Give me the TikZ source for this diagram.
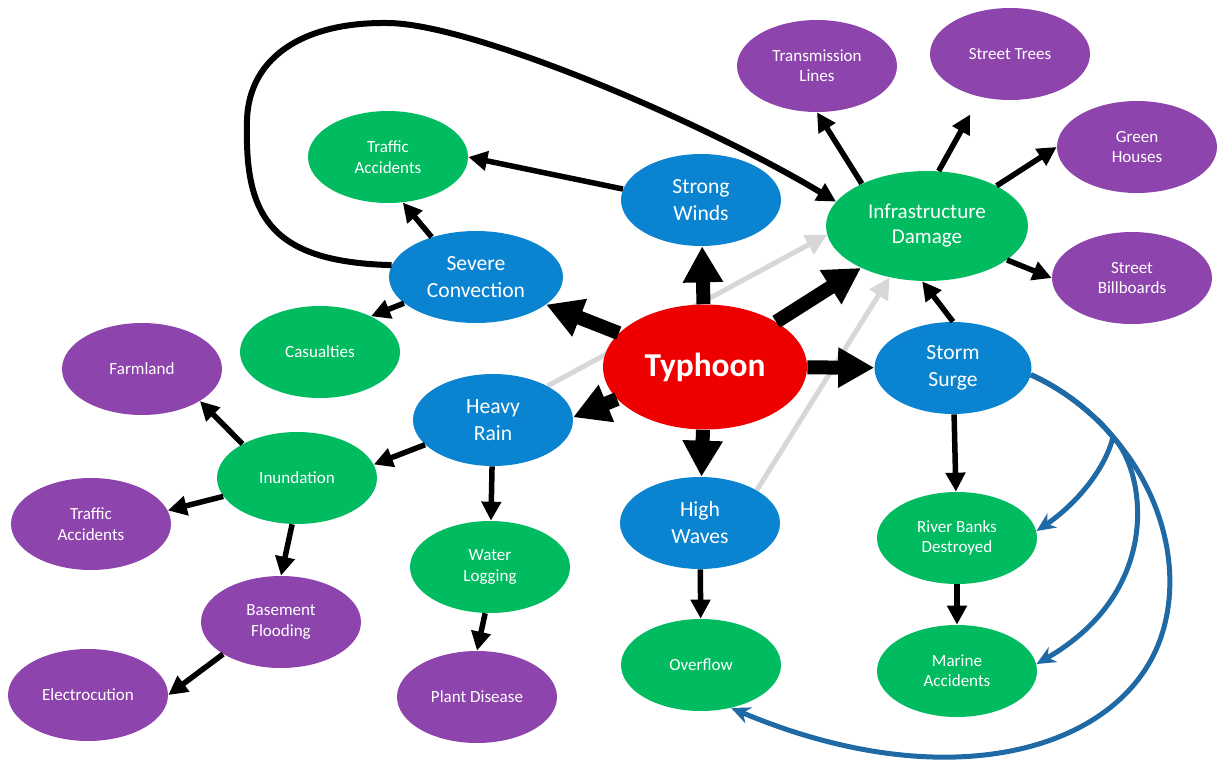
\documentclass[tikz,border=0pt]{standalone}
\usepackage{fontspec}
\setmainfont{Carlito}
\usetikzlibrary{shapes.geometric,arrows.meta,backgrounds}

\definecolor{hazblue}{RGB}{10,132,208}
\definecolor{effgreen}{RGB}{0,187,95}
\definecolor{objpurple}{RGB}{142,68,173}
\definecolor{typred}{RGB}{238,0,0}
\definecolor{surgeblue}{RGB}{31,105,165}
\definecolor{faintgray}{RGB}{215,215,215}

\begin{document}
\begin{tikzpicture}[x=0.02cm, y=-0.02cm,
	bubble/.style={shape=ellipse, inner sep=0pt, text=white, align=center, minimum width=3.2cm, minimum height=1.84cm},
	hazard/.style={bubble, fill=hazblue, font=\fontsize{12.3}{15.3}\selectfont},
	effect/.style={bubble, fill=effgreen, font=\fontsize{9.7}{11.6}\selectfont},
	target/.style={bubble, fill=objpurple, font=\fontsize{9.7}{11.6}\selectfont},
	mainlink/.style={-{Triangle[length=0.72cm, width=0.76cm]}, line width=0.28cm},
	link/.style={-{Triangle[length=0.38cm, width=0.38cm]}, line width=0.11cm},
	faintlink/.style={-{Triangle[length=0.42cm, width=0.42cm]}, line width=0.1cm, color=faintgray},
	surgelink/.style={-{Stealth[length=0.38cm, width=0.34cm]}, line width=0.1cm, draw=surgeblue}]
	
	\useasboundingbox (0, 0) rectangle (1221, 761);
	
	\node[hazard, fill=typred, minimum width=4.08cm, minimum height=2.5cm, font=\fontsize{19}{22}\selectfont\bfseries] (typhoon) at (705, 367) {Typhoon};
	
	\node[hazard] (winds) at (701, 200) {Strong\\Winds};
	\node[hazard, minimum width=3.48cm] (convection) at (476, 277) {Severe\\Convection};
	\node[hazard] (rain) at (493, 420) {Heavy\\Rain};
	\node[hazard] (waves) at (700, 523) {High\\Waves};
	\node[hazard, minimum width=3.14cm] (surge) at (953, 368) {Storm\\Surge};
	
	\node[effect, minimum width=4.04cm, minimum height=2.2cm, font=\fontsize{12}{14.2}\selectfont] (damage) at (927, 226) {Infrastructure\\Damage};
	\node[effect] (traffic) at (388, 157) {Traffic\\Accidents};
	\node[effect] (casualties) at (320, 352) {Casualties};
	\node[effect] (inundation) at (297, 478) {Inundation};
	\node[effect] (logging) at (490, 567) {Water\\Logging};
	\node[effect] (overflow) at (701, 665) {Overflow};
	\node[effect] (banks) at (957, 538) {River Banks\\Destroyed};
	\node[effect] (marine) at (957, 671) {Marine\\Accidents};
	
	\node[target] (lines) at (817, 66) {Transmission\\Lines};
	\node[target] (trees) at (1010, 54) {Street Trees};
	\node[target] (houses) at (1137, 147) {Green\\Houses};
	\node[target] (billboards) at (1132, 278) {Street\\Billboards};
	\node[target] (farmland) at (142, 369) {Farmland};
	\node[target] (crashes) at (91, 524) {Traffic\\Accidents};
	\node[target] (basement) at (281, 622) {Basement\\Flooding};
	\node[target] (electrocution) at (88, 695) {Electrocution};
	\node[target] (disease) at (477, 697) {Plant Disease};
	
	\coordinate (fork) at (1113, 437);
	
	\begin{scope}[on background layer]
		\draw[faintlink] (rain.32) -- (damage.185);
		\draw[faintlink] (waves.30) -- (damage.234);
	\end{scope}
	
	\path[mainlink] (typhoon) edge (winds);
	\path[mainlink] (typhoon) edge (convection);
	\path[mainlink] (typhoon.200) edge (rain.2);
	\path[mainlink] (typhoon) edge (waves);
	\path[mainlink] (typhoon) edge (surge);
	\path[mainlink] (typhoon) edge (damage);
	
	\path[link] (winds.172) edge (traffic.east);
	\path[link] (convection.138) edge (traffic.-72);
	\path[link] (convection.200) edge (casualties.35);
	\path[link] (rain.200) edge (inundation.10);
	\path[link] (rain) edge (logging);
	\path[link] (inundation.148) edge (farmland.-29);
	\path[link] (inundation.194) edge (crashes.10);
	\path[link] (inundation.-96) edge (basement.north);
	\path[link] (basement.209) edge (electrocution.east);
	\path[link] (logging.-96) edge (disease.north);
	\path[link] (waves) edge (overflow);
	\path[link] (surge) edge (banks);
	\path[link] (banks) edge (marine);
	\path[link] (surge.north) edge (damage.-95);
	\path[link] (damage.147) edge (lines.south);
	\path[link] (damage.78) edge[shorten >=0.4cm] (trees.-125);
	\path[link] (damage.30) edge (houses.west);
	\path[link] (damage.-23) edge (billboards.west);
	
	\draw[link, line width=0.12cm] (convection.172) .. controls (275, 262) and (245, 220) .. (247, 127)
		.. controls (245, 60) and (300, 22) .. (387, 23)
		.. controls (470, 23) and (700, 120) .. (damage.165);
	
	\draw[surgelink] (surge.-5) .. controls (1065, 390) and (1095, 415) .. (fork)
		.. controls (1105, 470) and (1075, 505) .. (banks.5);
	\draw[surgelink] (surge.-5) .. controls (1065, 390) and (1095, 415) .. (fork)
		.. controls (1145, 470) and (1165, 590) .. (marine.5);
	\draw[surgelink] (surge.-5) .. controls (1065, 390) and (1095, 415) .. (fork)
		.. controls (1160, 490) and (1185, 570) .. (1160, 640)
		.. controls (1120, 750) and (950, 800) .. (overflow.-55);
	
\end{tikzpicture}
\end{document}
